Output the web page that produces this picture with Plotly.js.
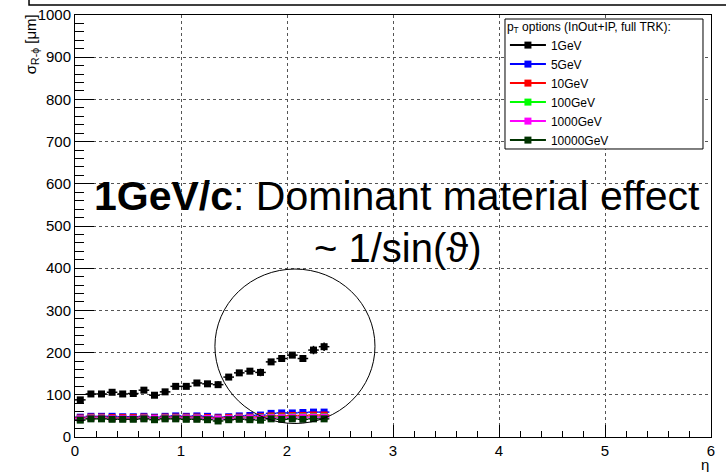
<!DOCTYPE html>
<html>
<head>
<meta charset="utf-8">
<script src="https://cdn.plot.ly/plotly-3.0.1.min.js"></script>
<style>
  html, body { margin: 0; padding: 0; background: #fff; }
  #chart { width: 726px; height: 472px; }
</style>
</head>
<body>
<div id="chart"></div>
<script>
// Bin centres in pseudorapidity (bin width 0.1)
const eta = [0.05, 0.15, 0.25, 0.35, 0.45, 0.55, 0.65, 0.75, 0.85, 0.95, 1.05, 1.15,
             1.25, 1.35, 1.45, 1.55, 1.65, 1.75, 1.85, 1.95, 2.05, 2.15, 2.25, 2.35];
const halfBin = 0.05;

// Transverse impact-parameter resolution sigma_{R-phi} [um] per pT option
const seriesNames = ["1GeV", "5GeV", "10GeV", "100GeV", "1000GeV", "10000GeV"];
const sigma1GeV     = [88, 102, 102, 106, 102, 103, 111, 99, 107, 120, 120, 128,
                       126, 124, 142, 152, 156, 153, 178, 186, 194, 186, 206, 214];
const err1GeV       = [6, 3, 3, 3, 3, 3, 5, 4, 4, 4, 4, 4,
                       4, 8, 4, 4, 4, 9, 4, 4, 4, 8, 10, 10];
const sigma5GeV     = [47, 49, 49, 49, 48, 48, 49, 47, 49, 50, 49, 50,
                       49, 47, 48, 50, 51, 52, 56, 57, 57, 58, 59, 59];
const sigma10GeV    = [45, 47, 47, 46, 46, 46, 47, 45, 47, 47, 47, 47,
                       46, 45, 46, 47, 47, 48, 50, 50, 51, 51, 52, 52];
const sigma100GeV   = [43, 45, 45, 44, 44, 44, 45, 44, 45, 45, 45, 45,
                       44, 43, 44, 45, 45, 46, 47, 47, 48, 48, 48, 48];
const sigma1000GeV  = [43, 45, 45, 44, 44, 44, 45, 44, 45, 45, 45, 45,
                       44, 43, 44, 45, 45, 45, 46, 46, 47, 47, 47, 47];
const sigma10000GeV = [40, 43, 43, 42, 42, 42, 43, 41, 43, 43, 42, 42,
                       41, 38, 41, 42, 41, 40, 43, 42, 43, 42, 43, 43];
const errHighPt = [2, 2, 2, 2, 2, 2, 2, 2, 2, 2, 2, 2,
                   2, 2, 2, 2, 2, 2, 2, 2, 2, 2, 2, 2];

const seriesValues = [sigma1GeV, sigma5GeV, sigma10GeV, sigma100GeV, sigma1000GeV, sigma10000GeV];
const seriesErrors = [err1GeV, errHighPt, errHighPt, errHighPt, errHighPt, errHighPt];
const seriesColors = ["#000000", "#0000ff", "#ff0000", "#00ff00", "#ff00ff", "#003300"];

const FONT = "Liberation Sans, Arial, Helvetica, sans-serif";

const traces = [];
// Data points: square markers with bin-width horizontal bars and vertical errors
seriesNames.forEach((name, i) => {
  traces.push({
    type: "scatter", mode: "markers", name: name, legendgroup: name, showlegend: false,
    x: eta, y: seriesValues[i],
    marker: { symbol: "square", size: 7, color: seriesColors[i] },
    error_x: { type: "constant", value: halfBin, width: 0, thickness: 1.5, color: seriesColors[i] },
    error_y: { type: "data", array: seriesErrors[i], width: 0, thickness: 1.5, color: seriesColors[i] },
    hoverinfo: "x+y+name"
  });
});
// Legend entries drawn as line + marker
seriesNames.forEach((name, i) => {
  traces.push({
    type: "scatter", mode: "lines+markers", name: name, legendgroup: name, showlegend: true,
    x: [null], y: [null],
    line: { color: seriesColors[i], width: 2 },
    marker: { symbol: "square", size: 7, color: seriesColors[i] }
  });
});

const axisCommon = {
  showline: true, linecolor: "#000", linewidth: 1, mirror: true,
  showgrid: true, gridcolor: "#555", gridwidth: 1, griddash: "dot",
  zeroline: false, ticks: "inside", tickcolor: "#000", tickwidth: 1,
  tickfont: { family: FONT, size: 15, color: "#000" }
};

const layout = {
  width: 726, height: 472,
  margin: { l: 75, r: 15, t: 15, b: 35 },
  paper_bgcolor: "#fff", plot_bgcolor: "#fff",
  font: { family: FONT, color: "#000" },
  showlegend: true,
  xaxis: Object.assign({}, axisCommon, {
    range: [0, 6], dtick: 1, tick0: 0, ticklen: 12,
    minor: { ticks: "inside", dtick: 0.2, ticklen: 6, tickcolor: "#000", showgrid: false }
  }),
  yaxis: Object.assign({}, axisCommon, {
    range: [0, 1000], dtick: 100, tick0: 0, ticklen: 19,
    minor: { ticks: "inside", dtick: 20, ticklen: 9, tickcolor: "#000", showgrid: false }
  }),
  legend: {
    x: 0.676, xanchor: "left", y: 1.0, yanchor: "top",
    bgcolor: "rgba(0,0,0,0)", borderwidth: 0,
    font: { family: FONT, size: 12, color: "#000" },
    title: {
      text: "p<sub>T</sub> options (InOut+IP, full TRK):",
      font: { family: FONT, size: 12, color: "#000" }
    },
    itemwidth: 36, tracegroupgap: 0
  },
  annotations: [
    {
      text: "<b>1GeV/c</b>: Dominant material effect",
      xref: "x", yref: "y", x: 3.04, y: 571, xanchor: "center", yanchor: "middle",
      showarrow: false, font: { family: FONT, size: 41, color: "#000" }
    },
    {
      text: "~ 1/sin(\u03D1)",
      xref: "x", yref: "y", x: 3.04, y: 448, xanchor: "center", yanchor: "middle",
      showarrow: false, font: { family: FONT, size: 40, color: "#000" }
    },
    {
      text: "\u03C3<sub>R-\u03D5</sub> [\u03BCm]",
      xref: "paper", yref: "paper", x: -0.069, y: 1.007, xanchor: "center", yanchor: "top",
      textangle: -90, showarrow: false, font: { family: FONT, size: 15, color: "#000" }
    },
    {
      text: "\u03B7",
      xref: "paper", yref: "paper", x: 0.9906, y: -0.066, xanchor: "center", yanchor: "middle",
      showarrow: false, font: { family: FONT, size: 15, color: "#000" }
    }
  ],
  shapes: [
    // Highlight ring around the rising 1 GeV points
    { type: "circle", xref: "x", yref: "y", x0: 1.32, x1: 2.83, y0: 32, y1: 398,
      line: { color: "#000", width: 1 } },
    // Legend frame (white box with black border)
    { type: "rect", xref: "paper", yref: "paper", layer: "above",
      x0: 0.6761, x1: 0.9874, y0: 0.6825, y1: 0.9905,
      fillcolor: "#fff", line: { color: "#000", width: 1 } },
    // Edge of the enclosing frame above the pad
    { type: "path", xref: "paper", yref: "paper",
      path: "M -0.0723 1.0355 L -0.0723 1.0237 L 1.03 1.0237",
      line: { color: "#000", width: 1.5 } }
  ]
};

Plotly.newPlot("chart", traces, layout, { displayModeBar: false, staticPlot: true });
</script>
</body>
</html>
